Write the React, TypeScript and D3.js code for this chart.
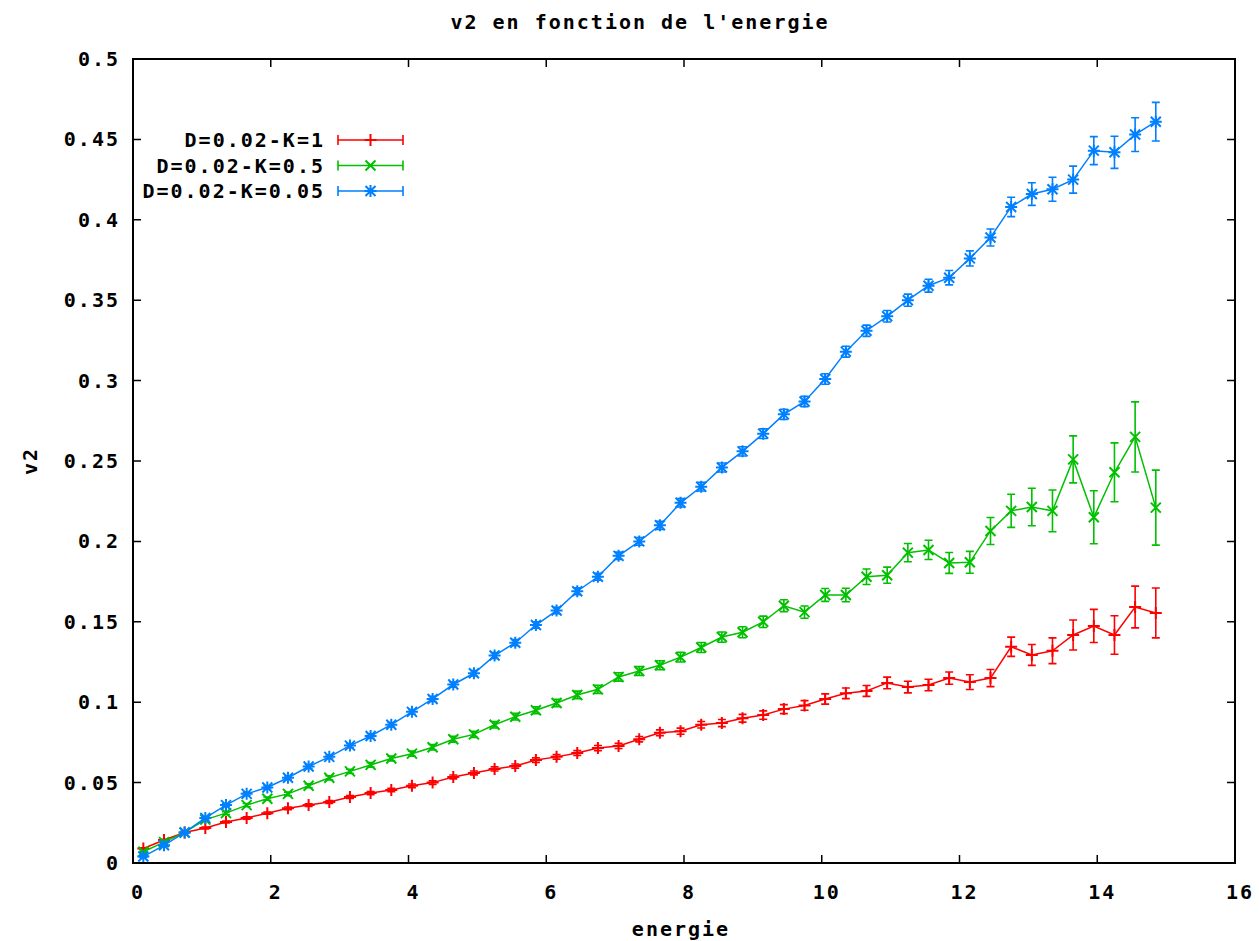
import React from "react";
import * as d3 from "d3";

// Energy bins (centres of 0.3-wide bins from 0 to 15)
const energie: number[] = [
  0.15, 0.45, 0.75, 1.05, 1.35, 1.65, 1.95, 2.25, 2.55, 2.85,
  3.15, 3.45, 3.75, 4.05, 4.35, 4.65, 4.95, 5.25, 5.55, 5.85,
  6.15, 6.45, 6.75, 7.05, 7.35, 7.65, 7.95, 8.25, 8.55, 8.85,
  9.15, 9.45, 9.75, 10.05, 10.35, 10.65, 10.95, 11.25, 11.55, 11.85,
  12.15, 12.45, 12.75, 13.05, 13.35, 13.65, 13.95, 14.25, 14.55, 14.85,
];

// D=0.02 - K=1
const v2K1: number[] = [
  0.009, 0.0143, 0.019, 0.0218, 0.0255, 0.028, 0.031, 0.034, 0.036, 0.038,
  0.041, 0.0435, 0.0454, 0.048, 0.05, 0.0535, 0.056, 0.0585, 0.0603, 0.064,
  0.066, 0.0684, 0.0715, 0.0728, 0.077, 0.081, 0.082, 0.086, 0.087, 0.09,
  0.092, 0.0957, 0.098, 0.102, 0.1055, 0.107, 0.112, 0.1094, 0.1107, 0.115,
  0.1125, 0.115, 0.1345, 0.1294, 0.132, 0.1418, 0.1474, 0.1418, 0.1592, 0.1555,
];
const errK1: number[] = [
  0.0004, 0.0005, 0.0005, 0.0006, 0.0006, 0.0007, 0.0007, 0.0008, 0.0008, 0.0009,
  0.0009, 0.001, 0.001, 0.0011, 0.0011, 0.0012, 0.0012, 0.0013, 0.0013, 0.0014,
  0.0014, 0.0015, 0.0016, 0.0016, 0.0017, 0.0018, 0.0019, 0.002, 0.0022, 0.0024,
  0.0026, 0.0028, 0.003, 0.0032, 0.0033, 0.0034, 0.0036, 0.0036, 0.0036, 0.0038,
  0.0046, 0.0053, 0.006, 0.0065, 0.008, 0.0093, 0.0103, 0.012, 0.013, 0.0155,
];

// D=0.02 - K=0.5
const v2K05: number[] = [
  0.007, 0.013, 0.019, 0.027, 0.031, 0.036, 0.04, 0.043, 0.048, 0.053,
  0.057, 0.061, 0.065, 0.068, 0.072, 0.077, 0.08, 0.086, 0.091, 0.095,
  0.0995, 0.1045, 0.108, 0.1157, 0.1194, 0.123, 0.128, 0.134, 0.1405, 0.1435,
  0.15, 0.16, 0.156, 0.1667, 0.1667, 0.178, 0.179, 0.193, 0.1947, 0.1866,
  0.187, 0.2065, 0.219, 0.2214, 0.219, 0.251, 0.215, 0.243, 0.265, 0.221,
];
const errK05: number[] = [
  0.0005, 0.0006, 0.0007, 0.0008, 0.0009, 0.001, 0.001, 0.0011, 0.0012, 0.0013,
  0.0013, 0.0014, 0.0015, 0.0016, 0.0017, 0.0018, 0.0019, 0.002, 0.0021, 0.0022,
  0.0023, 0.0024, 0.0025, 0.0026, 0.0027, 0.0028, 0.003, 0.0031, 0.0032, 0.0034,
  0.0035, 0.0037, 0.0038, 0.004, 0.0042, 0.0048, 0.005, 0.0057, 0.006, 0.0065,
  0.0068, 0.0084, 0.0103, 0.0117, 0.013, 0.0146, 0.0165, 0.0183, 0.0218, 0.0233,
];

// D=0.02 - K=0.05
const v2K005: number[] = [
  0.004, 0.011, 0.019, 0.028, 0.036, 0.043, 0.047, 0.053, 0.06, 0.066,
  0.073, 0.079, 0.086, 0.094, 0.102, 0.111, 0.118, 0.129, 0.137, 0.148,
  0.157, 0.169, 0.178, 0.191, 0.2, 0.21, 0.224, 0.234, 0.246, 0.256,
  0.267, 0.279, 0.287, 0.301, 0.318, 0.331, 0.34, 0.35, 0.359, 0.364,
  0.376, 0.389, 0.408, 0.416, 0.419, 0.425, 0.443, 0.442, 0.453, 0.461,
];
const errK005: number[] = [
  0.0005, 0.0006, 0.0007, 0.0008, 0.0009, 0.001, 0.001, 0.0011, 0.0012, 0.0012,
  0.0013, 0.0014, 0.0014, 0.0015, 0.0016, 0.0016, 0.0017, 0.0018, 0.0019, 0.002,
  0.002, 0.0021, 0.0022, 0.0023, 0.0024, 0.0025, 0.0026, 0.0027, 0.0028, 0.0029,
  0.003, 0.0031, 0.0032, 0.0033, 0.0034, 0.0035, 0.0036, 0.0038, 0.004, 0.0045,
  0.0047, 0.0053, 0.006, 0.007, 0.0075, 0.0084, 0.0087, 0.01, 0.0105, 0.012,
];

const seriesLabels: string[] = ["D=0.02-K=1", "D=0.02-K=0.5", "D=0.02-K=0.05"];
const seriesColors: string[] = ["#ff0000", "#00c000", "#0080ff"];
const seriesMarkers: string[] = ["plus", "cross", "star"];

const xTicks: number[] = [0, 2, 4, 6, 8, 10, 12, 14, 16];
const yTicks: number[] = [0, 0.05, 0.1, 0.15, 0.2, 0.25, 0.3, 0.35, 0.4, 0.45, 0.5];

const W = 1259;
const H = 941;
const left = 133;
const right = 1235;
const top = 59;
const bottom = 863;

const FONT = "'DejaVu Sans Mono', 'Liberation Mono', monospace";
const textStyle: React.CSSProperties = {
  fontFamily: FONT,
  fontWeight: 700,
  fontSize: 20,
  letterSpacing: 2,
};

function Marker({ kind, x, y, color }: { kind: string; x: number; y: number; color: string }) {
  const s = 6;
  const c = 5;
  const parts: string[] = [];
  if (kind === "plus" || kind === "star") {
    parts.push(`M${x - s},${y}H${x + s}M${x},${y - s}V${y + s}`);
  }
  if (kind === "cross" || kind === "star") {
    parts.push(`M${x - c},${y - c}L${x + c},${y + c}M${x - c},${y + c}L${x + c},${y - c}`);
  }
  return <path d={parts.join("")} stroke={color} strokeWidth={2} fill="none" />;
}

export default function App() {
  const x = d3.scaleLinear().domain([0, 16]).range([left, right]);
  const y = d3.scaleLinear().domain([0, 0.5]).range([bottom, top]);

  const series = [
    { vals: v2K1, errs: errK1 },
    { vals: v2K05, errs: errK05 },
    { vals: v2K005, errs: errK005 },
  ];

  const line = d3
    .line<number>()
    .x((_, i) => x(energie[i]))
    .y((d) => y(d));

  const yFmt = (v: number) => (v === 0 ? "0" : d3.format("")(+v.toFixed(2)));
  const tickLen = 8;
  const cap = 4;

  return (
    <svg
      width={W}
      height={H}
      viewBox={`0 0 ${W} ${H}`}
      style={{ position: "absolute", left: 0, top: 0, background: "#fff" }}
    >
      <rect x={0} y={0} width={W} height={H} fill="#fff" />

      {/* title and axis labels */}
      <text x={640} y={29} textAnchor="middle" style={textStyle} fill="#000">
        v2 en fonction de l'energie
      </text>
      <text x={681} y={936} textAnchor="middle" style={textStyle} fill="#000">
        energie
      </text>
      <text
        transform={`translate(37,${(top + bottom) / 2}) rotate(-90)`}
        textAnchor="middle"
        style={textStyle}
        fill="#000"
      >
        v2
      </text>

      {/* y ticks */}
      {yTicks.map((t) => (
        <g key={`y${t}`}>
          <path
            d={`M${left},${y(t)}h${tickLen}M${right},${y(t)}h${-tickLen}`}
            stroke="#000"
            strokeWidth={1.5}
          />
          <text x={120} y={y(t) + 7} textAnchor="end" style={textStyle} fill="#000">
            {yFmt(t)}
          </text>
        </g>
      ))}

      {/* x ticks */}
      {xTicks.map((t) => (
        <g key={`x${t}`}>
          <path
            d={`M${x(t)},${bottom}v${-tickLen}M${x(t)},${top}v${tickLen}`}
            stroke="#000"
            strokeWidth={1.5}
          />
          <text x={x(t) + 5} y={899} textAnchor="middle" style={textStyle} fill="#000">
            {t}
          </text>
        </g>
      ))}

      {/* data */}
      {series.map((s, si) => {
        const color = seriesColors[si];
        return (
          <g key={`s${si}`}>
            {s.vals.map((v, i) => {
              const cx = x(energie[i]);
              const y1 = y(v + s.errs[i]);
              const y0 = y(v - s.errs[i]);
              return (
                <path
                  key={`e${i}`}
                  d={`M${cx},${y0}V${y1}M${cx - cap},${y0}H${cx + cap}M${cx - cap},${y1}H${cx + cap}`}
                  stroke={color}
                  strokeWidth={1.6}
                  fill="none"
                />
              );
            })}
            <path d={line(s.vals) ?? ""} stroke={color} strokeWidth={1.5} fill="none" />
            {s.vals.map((v, i) => (
              <Marker key={`m${i}`} kind={seriesMarkers[si]} x={x(energie[i])} y={y(v)} color={color} />
            ))}
          </g>
        );
      })}

      {/* legend */}
      {seriesLabels.map((lab, i) => {
        const ly = 140 + i * 25.5;
        const color = seriesColors[i];
        return (
          <g key={`l${i}`}>
            <text x={325} y={ly + 7} textAnchor="end" style={textStyle} fill="#000">
              {lab}
            </text>
            <path
              d={`M338,${ly}H403M338,${ly - 5}V${ly + 5}M403,${ly - 5}V${ly + 5}`}
              stroke={color}
              strokeWidth={1.6}
              fill="none"
            />
            <Marker kind={seriesMarkers[i]} x={370.5} y={ly} color={color} />
          </g>
        );
      })}

      {/* frame */}
      <rect
        x={left}
        y={top}
        width={right - left}
        height={bottom - top}
        fill="none"
        stroke="#000"
        strokeWidth={2}
      />
    </svg>
  );
}
